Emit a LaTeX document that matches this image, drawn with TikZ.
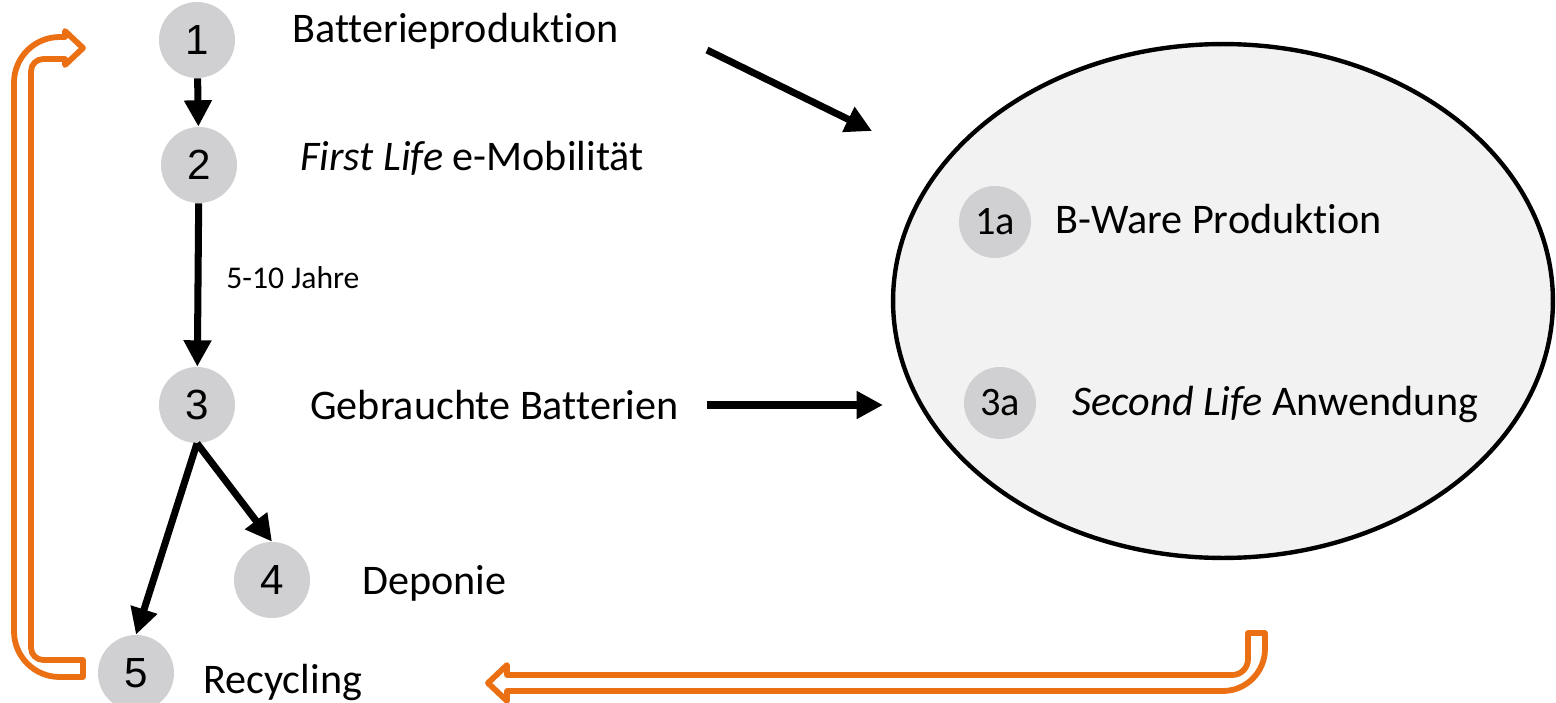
\documentclass[tikz,border=0pt]{standalone}
\usepackage{fontspec}
\setmainfont{Carlito}[Ligatures={NoCommon,NoContextual,NoRequired},Contextuals=NoAlternate]
\newfontfamily\digitfont{Liberation Sans}
\usetikzlibrary{arrows.meta,shapes.geometric}
\definecolor{stepgray}{RGB}{208,208,210}
\definecolor{poolfill}{RGB}{242,242,242}
\definecolor{loopcol}{RGB}{235,112,20}

\begin{document}
\begin{tikzpicture}[x=0.02cm,y=-0.02cm,
  stage/.style={circle,fill=stepgray,minimum size=1.52cm,inner sep=0pt,
    font=\digitfont\fontsize{24}{24}\selectfont},
  substage/.style={circle,fill=stepgray,minimum size=1.44cm,inner sep=0pt,
    font=\fontsize{23}{23}\selectfont},
  steptext/.style={anchor=base west,inner sep=0pt,font=\fontsize{24}{28}\selectfont},
  flow/.style={line width=4pt,-{Triangle[length=15pt,width=15pt]}},
  recycle/.style={draw=loopcol,line width=3.3pt,fill=white,line join=round}
]
\useasboundingbox (0,0) rectangle (1556,703);

% pool of second-use applications
\node[ellipse,draw,line width=2.5pt,fill=poolfill,
      minimum width=13.2cm,minimum height=10.28cm] (pool) at (1223,301) {};
\node[substage] (s1a) at (995,222) {1a};
\node[substage] (s3a) at (1000,403) {3a};
\node[steptext] (t1a) at (1055,233) {B-Ware Produktion};
\node[steptext] (t3a) at (1072,415) {\textit{Second Life} Anwendung};

% main life cycle stages
\node[stage] (s1) at (197,40) {1};
\node[stage] (s2) at (199,165) {2};
\node[stage] (s3) at (197,405) {3};
\node[stage] (s4) at (272,580) {4};
\node[stage] (s5) at (136,673) {5};

\node[steptext] (t1) at (292,42) {Batterieproduktion};
\node[steptext] (t2) at (300,170) {\textit{First Life} e-Mobilität};
\node[steptext,font=\fontsize{18}{20}\selectfont] (dur) at (226,288) {5-10 Jahre};
\node[steptext] (t3) at (310,419) {Gebrauchte Batterien};
\node[steptext] (t4) at (362,594) {Deponie};
\node[steptext] (t5) at (203,693) {Recycling};

% flows between stages
\draw[flow] (s1) -- (s2);
\draw[flow] (s2) -- (s3);
\draw[flow] (s3.south) -- (s4.north);
\draw[flow] (s3.south) -- (s5.north);

\coordinate (prodout) at (707,50);
\coordinate (prodin) at (872,131);
\coordinate (usedout) at (707,405);
\coordinate (usedin) at (883,405);
\draw[flow] (prodout) -- (prodin);
\draw[flow] (usedout) -- (usedin);

% recycling loop back to production
\draw[recycle] (83,660) [rounded corners=7] -- (31,660) -- (31,59) [sharp corners] -- (65,59)
  -- (65,65) -- (83,48) -- (65,31) -- (65,37) [rounded corners=26] -- (14,37) -- (14,677)
  [sharp corners] -- (83,677) -- cycle;

% return flow from second use
\draw[recycle] (1248,633) [rounded corners=9] -- (1248,675) [sharp corners] -- (507,675)
  -- (507,665) -- (488,683) -- (507,701) -- (507,691) [rounded corners=24] -- (1265,691)
  [sharp corners] -- (1265,633) -- cycle;
\end{tikzpicture}
\end{document}
